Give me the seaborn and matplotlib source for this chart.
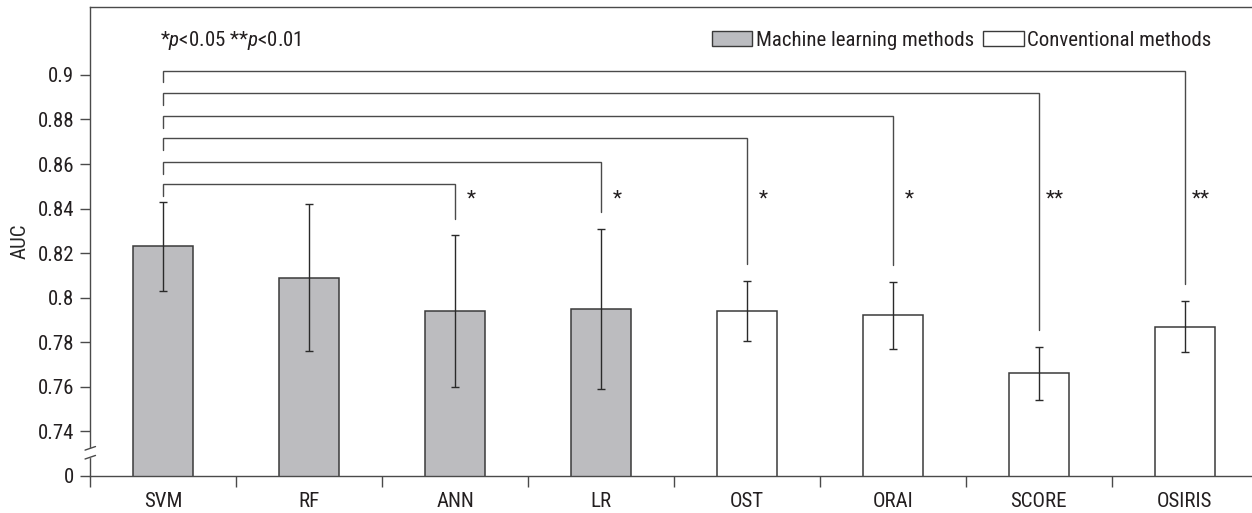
import numpy as np
import pandas as pd
import matplotlib
matplotlib.use('Agg')
import matplotlib.pyplot as plt
import seaborn as sns
from matplotlib import font_manager
from matplotlib.patches import Patch

# data
methods = ['SVM', 'RF', 'ANN', 'LR', 'OST', 'ORAI', 'SCORE', 'OSIRIS']
groups = ['Machine learning methods'] * 4 + ['Conventional methods'] * 4
auc = [0.823, 0.809, 0.794, 0.795, 0.794, 0.792, 0.766, 0.787]
auc_err = [0.020, 0.033, 0.034, 0.036, 0.0135, 0.015, 0.012, 0.0115]

# pairwise comparisons against SVM
compare_to = ['ANN', 'LR', 'OST', 'ORAI', 'SCORE', 'OSIRIS']
signif = ['*', '*', '*', '*', '**', '**']
bracket_levels = [0.851, 0.861, 0.8715, 0.8815, 0.892, 0.902]

ytick_vals = [0.72, 0.74, 0.76, 0.78, 0.80, 0.82, 0.84, 0.86, 0.88, 0.90]
ytick_labels = ['0', '0.74', '0.76', '0.78', '0.8', '0.82', '0.84', '0.86', '0.88', '0.9']

GRAY = '#bbbcc0'
INK = '#231f20'
LINE = '#4a4a4a'
FS = 15


def pick_font():
    """Prefer a condensed sans face, the reference uses one"""
    entries = font_manager.fontManager.ttflist
    names = {f.name for f in entries}
    for cand in ['Liberation Sans Narrow', 'Roboto Condensed', 'Open Sans Condensed',
                 'Noto Sans Condensed', 'Arial Narrow']:
        if cand in names:
            return cand, 'normal'
    for f in entries:
        if f.name in ('DejaVu Sans', 'Noto Sans', 'Open Sans') and f.stretch in ('condensed', 'semi-condensed'):
            return f.name, 'condensed'
    return 'Liberation Sans', 'normal'


sns.set_style('ticks')
font, stretch = pick_font()
plt.rcParams['font.family'] = [font, 'DejaVu Sans']
plt.rcParams['font.stretch'] = stretch
plt.rcParams['font.size'] = FS
plt.rcParams['mathtext.fontset'] = 'custom'
plt.rcParams['mathtext.rm'] = font
plt.rcParams['mathtext.it'] = font + ':italic'
plt.rcParams['text.color'] = INK
plt.rcParams['xtick.color'] = LINE
plt.rcParams['ytick.color'] = LINE
plt.rcParams['xtick.labelcolor'] = INK
plt.rcParams['ytick.labelcolor'] = INK

df = pd.DataFrame({'method': methods, 'auc': auc, 'group': groups})

fig = plt.figure(figsize=(12.52, 5.13), dpi=100)
ax = fig.add_axes([0.0721, 0.0727, 0.9279, 0.9131])

sns.barplot(data=df, x='method', y='auc', hue='group', dodge=False, order=methods,
            palette={'Machine learning methods': GRAY, 'Conventional methods': 'white'},
            width=0.41, edgecolor='#3a3a3a', linewidth=1.1, errorbar=None,
            legend=False, ax=ax)

xpos = np.arange(len(methods))
ax.errorbar(xpos, auc, yerr=auc_err, fmt='none', ecolor='#2a2a2a',
            elinewidth=1.0, capsize=3, capthick=1.0, zorder=4)

# significance brackets from SVM
top = np.array(auc) + np.array(auc_err)
for name, star, lev in zip(compare_to, signif, bracket_levels):
    j = methods.index(name)
    ax.plot([0, 0, j, j], [lev - 0.0053, lev, lev, top[j] + 0.0075],
            color=LINE, lw=1.0, solid_joinstyle='miter', zorder=3)
    ax.text(j + 0.11, 0.842, star, ha='center', va='baseline', fontsize=FS, color=INK)

ax.set_xlim(-0.5, 7.462)
ax.set_ylim(0.72, 0.9304)
ax.set_yticks(ytick_vals)
ax.set_yticklabels(ytick_labels)
ax.set_xticks(xpos)
ax.set_xticklabels(methods)
ax.set_xticks(np.arange(-0.5, 7.0, 1.0), minor=True)
ax.tick_params(axis='x', which='major', length=0, pad=12, labelsize=FS)
ax.tick_params(axis='x', which='minor', length=7.9, width=1.0, direction='out')
ax.tick_params(axis='y', length=7.2, width=1.0, pad=4.5, labelsize=FS)
ax.set_xlabel('')
ax.set_ylabel('AUC', fontsize=FS)
ax.yaxis.set_label_coords(-0.052, 0.5)

for side in ['left', 'bottom', 'top']:
    ax.spines[side].set_color(LINE)
    ax.spines[side].set_linewidth(1.0)
ax.spines['right'].set_visible(False)

# axis break marks on the y spine
ytr = ax.get_yaxis_transform()
ax.plot([0, 0], [0.7287, 0.7319], transform=ytr, color='white', lw=2.5,
        clip_on=False, zorder=6)
for yb in (0.7283, 0.7323):
    ax.plot([-0.0045, 0.0045], [yb - 0.0008, yb + 0.0008], transform=ytr,
            color=LINE, lw=1.0, clip_on=False, zorder=7)

handles = [Patch(facecolor=GRAY, edgecolor='#3a3a3a', lw=1.0),
           Patch(facecolor='white', edgecolor='#3a3a3a', lw=1.0)]
fig.legend(handles, ['Machine learning methods', 'Conventional methods'], ncol=2,
           loc='center right', bbox_to_anchor=(1211 / 1252, 1 - 40 / 513),
           frameon=False, handlelength=1.95, handleheight=0.75, handletextpad=0.15,
           columnspacing=0.45, borderpad=0, borderaxespad=0, fontsize=FS)

fig.text(160 / 1252, 1 - 40 / 513, r'*$\it{p}$<0.05 **$\it{p}$<0.01',
         ha='left', va='center', fontsize=FS)

fig.savefig('out.png', dpi=100)
plt.close(fig)
